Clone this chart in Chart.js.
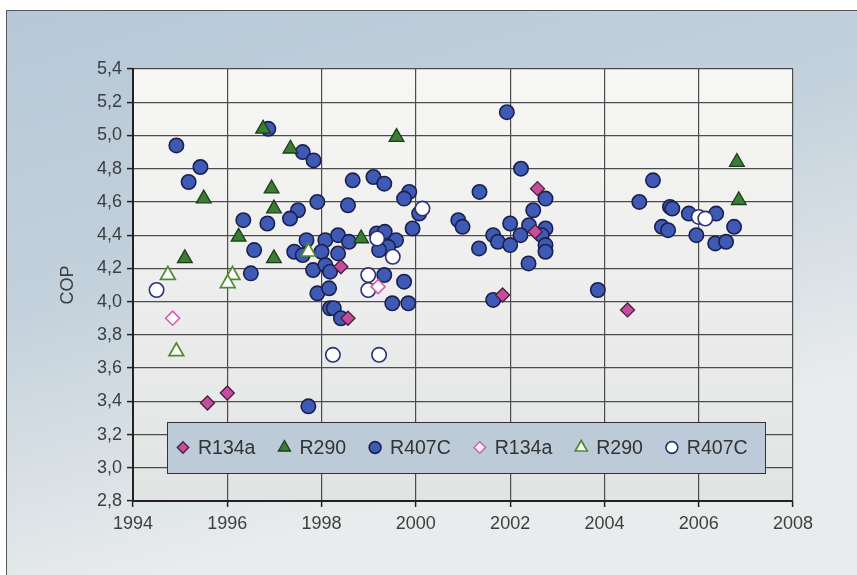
<!DOCTYPE html>
<html>
<head>
<meta charset="utf-8">
<script src="https://cdn.jsdelivr.net/npm/chart.js@4.4.1/dist/chart.umd.min.js"></script>
<style>
  html, body { margin: 0; padding: 0; background: #fff; }
  #wrap { width: 857px; height: 575px; position: relative; }
</style>
</head>
<body>
<div id="wrap"><canvas id="grafico"></canvas></div>
<script>
// R134a (cheio)
const r134aAnos = [1998.41, 1998.56, 1996.00, 1995.58, 2002.58, 2002.53, 2001.84, 2004.49];
const r134aCop  = [4.21, 3.90, 3.45, 3.39, 4.68, 4.42, 4.04, 3.95];

// R290 (cheio)
const r290Anos = [1996.76, 1999.59, 1997.34, 1995.50, 1996.94, 1996.99, 1996.24, 1996.99, 1995.10, 1998.84, 2006.81, 2006.85];
const r290Cop  = [5.04, 4.99, 4.92, 4.62, 4.68, 4.56, 4.39, 4.26, 4.26, 4.38, 4.84, 4.61];

// R407C (cheio)
const r407cAnos = [
  1996.87, 1994.92, 1997.60, 1997.83, 1995.43, 1995.18, 1998.66, 1999.10, 1999.33, 1999.86,
  1999.75, 2000.07, 1999.93, 1997.91, 1998.56, 1997.50, 1997.33, 1996.34, 1996.85, 1996.57,
  1996.50, 1997.68, 1997.42, 1997.60, 1998.08, 1998.35, 1998.58, 1998.00, 1998.35, 1997.82,
  1998.08, 1998.18, 1997.91, 1998.16, 1999.17, 1999.34, 1999.58, 1999.41, 1999.22, 1999.33,
  1999.75, 1997.72, 1999.50, 1999.84, 1998.18, 1998.26, 1998.41, 2001.93, 2002.23, 2002.75,
  2001.35, 2002.49, 2000.90, 2000.99, 2002.00, 2002.40, 2002.75, 2002.67, 2002.22, 2001.64,
  2001.74, 2002.00, 2001.34, 2002.75, 2002.75, 2002.39, 2003.86, 2001.64, 2005.03, 2004.74,
  2005.39, 2005.44, 2005.79, 2006.37, 2005.22, 2005.35, 2006.75, 2005.95, 2006.35, 2006.58
];
const r407cCop = [
  5.04, 4.94, 4.90, 4.85, 4.81, 4.72, 4.73, 4.75, 4.71, 4.66,
  4.62, 4.53, 4.44, 4.60, 4.58, 4.55, 4.50, 4.49, 4.47, 4.31,
  4.17, 4.37, 4.30, 4.28, 4.37, 4.40, 4.36, 4.30, 4.29, 4.19,
  4.22, 4.18, 4.05, 4.08, 4.41, 4.42, 4.37, 4.33, 4.31, 4.16,
  4.12, 3.37, 3.99, 3.99, 3.96, 3.96, 3.90, 5.14, 4.80, 4.62,
  4.66, 4.55, 4.49, 4.45, 4.47, 4.46, 4.44, 4.40, 4.40, 4.40,
  4.36, 4.34, 4.32, 4.34, 4.30, 4.23, 4.07, 4.01, 4.73, 4.60,
  4.57, 4.56, 4.53, 4.53, 4.45, 4.43, 4.45, 4.40, 4.35, 4.36
];

// R134a (vazio)
const r134aVazioAnos = [1994.84, 1999.20];
const r134aVazioCop  = [3.90, 4.09];

// R290 (vazio)
const r290VazioAnos = [1994.74, 1996.11, 1996.01, 1994.92, 1997.72];
const r290VazioCop  = [4.16, 4.16, 4.11, 3.70, 4.30];

// R407C (vazio)
const r407cVazioAnos = [1994.50, 2000.14, 1999.51, 1998.99, 1998.99, 1998.24, 1999.22, 1999.18, 2006.00, 2006.14];
const r407cVazioCop  = [4.07, 4.56, 4.27, 4.16, 4.07, 3.68, 3.68, 4.38, 4.51, 4.50];

const nomes = ['R134a', 'R290', 'R407C', 'R134a', 'R290', 'R407C'];

function pontos(anos, cop) {
  return anos.map((a, i) => ({ x: a, y: cop[i] }));
}

const data = {
  datasets: [
    { label: nomes[0], data: pontos(r134aAnos, r134aCop), pointStyle: 'rectRot', pointRadius: 7,
      backgroundColor: '#c44e9c', borderColor: '#4a1d3c', borderWidth: 1.3, order: 1 },
    { label: nomes[1], data: pontos(r290Anos, r290Cop), pointStyle: 'triangle', pointRadius: 8.5,
      backgroundColor: '#3b7d34', borderColor: '#1d3d1a', borderWidth: 1.3, order: 2 },
    { label: nomes[2], data: pontos(r407cAnos, r407cCop), pointStyle: 'circle', pointRadius: 7.2,
      backgroundColor: '#3f5ab4', borderColor: '#1b1f4d', borderWidth: 1.6, order: 3 },
    { label: nomes[3], data: pontos(r134aVazioAnos, r134aVazioCop), pointStyle: 'rectRot', pointRadius: 7,
      backgroundColor: '#ffffff', borderColor: '#d35eaa', borderWidth: 1.6, order: 0 },
    { label: nomes[4], data: pontos(r290VazioAnos, r290VazioCop), pointStyle: 'triangle', pointRadius: 8.5,
      backgroundColor: '#ffffff', borderColor: '#4f8a2c', borderWidth: 1.7, order: 0 },
    { label: nomes[5], data: pontos(r407cVazioAnos, r407cVazioCop), pointStyle: 'circle', pointRadius: 7.2,
      backgroundColor: '#ffffff', borderColor: '#2d2f7a', borderWidth: 1.6, order: 0 }
  ]
};

// fundo do painel e da area do grafico
const fundo = {
  id: 'fundo',
  beforeDraw(chart) {
    const { ctx, width, height, chartArea: a } = chart;
    ctx.save();
    ctx.fillStyle = '#ffffff';
    ctx.fillRect(0, 0, width, height);
    const g = ctx.createLinearGradient(0, 10, 160, height);
    g.addColorStop(0, '#b6c8d7');
    g.addColorStop(0.5, '#c3d1dc');
    g.addColorStop(1, '#e9ecec');
    ctx.fillStyle = g;
    ctx.fillRect(6, 10, width - 6, height - 10);
    ctx.strokeStyle = '#555';
    ctx.lineWidth = 1;
    ctx.beginPath();
    ctx.moveTo(6.5, height);
    ctx.lineTo(6.5, 10.5);
    ctx.lineTo(width, 10.5);
    ctx.stroke();
    const p = ctx.createLinearGradient(0, a.top, 0, a.bottom);
    p.addColorStop(0, '#f7f7f5');
    p.addColorStop(1, '#e2e4e4');
    ctx.fillStyle = p;
    ctx.fillRect(a.left, a.top, a.right - a.left, a.bottom - a.top);
    ctx.restore();
  }
};

// legenda dentro da area do grafico
const legenda = {
  id: 'legenda',
  afterDatasetsDraw(chart) {
    const ctx = chart.ctx;
    const box = { l: 167, t: 422, r: 765, b: 473 };
    ctx.save();
    ctx.fillStyle = '#bccbd7';
    ctx.fillRect(box.l, box.t, box.r - box.l, box.b - box.t);
    ctx.strokeStyle = '#333';
    ctx.lineWidth = 1;
    ctx.strokeRect(box.l + 0.5, box.t + 0.5, box.r - box.l, box.b - box.t);
    ctx.font = '19.5px "Liberation Sans", Arial, sans-serif';
    ctx.textBaseline = 'middle';
    const cy = (box.t + box.b) / 2;
    let x = 183;
    chart.data.datasets.forEach((ds) => {
      ctx.fillStyle = ds.backgroundColor;
      ctx.strokeStyle = ds.borderColor;
      ctx.lineWidth = ds.borderWidth;
      Chart.helpers.drawPoint(ctx, {
        pointStyle: ds.pointStyle, rotation: 0,
        radius: ds.pointRadius * 0.82, borderWidth: ds.borderWidth
      }, x, cy);
      ctx.fillStyle = '#333';
      ctx.fillText(ds.label, x + 15, cy + 1);
      x += 15 + ctx.measureText(ds.label).width + 29;
    });
    ctx.restore();
  }
};

const fonteEixo = { family: '"Liberation Sans", Arial, sans-serif', size: 18 };

const config = {
  type: 'scatter',
  data: data,
  plugins: [fundo, legenda],
  options: {
    responsive: true,
    maintainAspectRatio: false,
    animation: false,
    layout: { padding: { top: 69, right: 64, left: 0, bottom: 0 } },
    plugins: { legend: { display: false }, tooltip: { enabled: false } },
    scales: {
      x: {
        type: 'linear', min: 1994, max: 2008,
        ticks: { stepSize: 2, color: '#3e3e3e', font: fonteEixo, padding: 6, callback: (v) => String(v) },
        grid: { color: '#4c4c4c', lineWidth: 1.2, tickLength: 6, tickColor: '#222', tickWidth: 1.5 },
        border: { color: '#222', width: 2 },
        afterFit: (s) => { s.height = 74; }
      },
      y: {
        min: 2.8, max: 5.4,
        ticks: { stepSize: 0.2, color: '#3e3e3e', font: fonteEixo, padding: 5,
                 callback: (v) => v.toFixed(1).replace('.', ',') },
        grid: { color: '#4c4c4c', lineWidth: 1.2, tickLength: 6, tickColor: '#222', tickWidth: 1.5 },
        border: { color: '#222', width: 2 },
        title: { display: true, text: 'COP', color: '#3e3e3e', font: fonteEixo, padding: { top: 57, bottom: 0 } },
        afterFit: (s) => { s.width = 133; }
      }
    }
  }
};

const grafico = new Chart(document.getElementById('grafico'), config);
</script>
</body>
</html>
